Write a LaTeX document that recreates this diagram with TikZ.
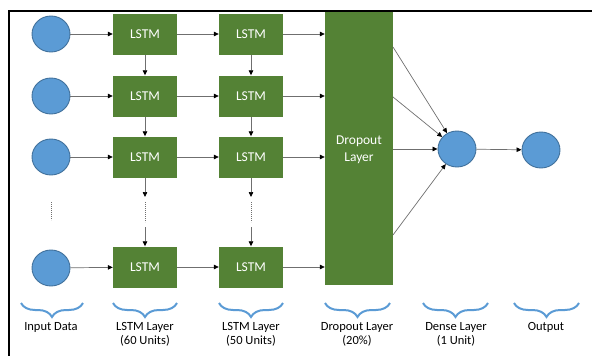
\documentclass[tikz,border=0pt]{standalone}
\usepackage{fontspec}
\setmainfont{Carlito}
\usetikzlibrary{arrows.meta,shapes.geometric,decorations.pathreplacing}
\definecolor{lgreen}{HTML}{548235}
\definecolor{cblue}{HTML}{5B9BD5}
\definecolor{cedge}{HTML}{41719C}
\definecolor{lgray}{HTML}{6F6F6F}
\begin{document}
\begin{tikzpicture}[x=1pt,y=-1pt,
 inp/.style={ellipse,fill=cblue,draw=cedge,line width=0.9pt,minimum width=38pt,minimum height=36pt,inner sep=0pt},
 lstm/.style={rectangle,fill=lgreen,minimum width=64pt,minimum height=41pt,inner sep=0pt,text=white,font=\fontsize{13.5}{16}\selectfont},
 conn/.style={draw=lgray, line width=0.7pt, -{Triangle[length=5pt,width=4.5pt,color=black]}},
 dotline/.style={draw=lgray, line width=0.8pt, dash pattern=on 0.8pt off 1.2pt},
 brc/.style={draw=cblue,line width=2pt,decorate,decoration={brace,mirror,amplitude=14pt,aspect=0.5}},
 lbl/.style={font=\fontsize{12.5}{14}\selectfont,align=center,anchor=north,inner sep=0pt}]
\useasboundingbox (0,0) rectangle (592,356);
\draw[line width=2pt] (9,358) -- (9,11) -- (594,11);
% input circles
\node[inp] (i1) at (51,34) {};
\node[inp] (i2) at (51,96) {};
\node[inp] (i3) at (51,157) {};
\node[inp] (i5) at (51,268) {};
% LSTM column 1
\node[lstm] (a1) at (145,34) {LSTM};
\node[lstm] (a2) at (145,96) {LSTM};
\node[lstm] (a3) at (145,157) {LSTM};
\node[lstm] (a5) at (145,267) {LSTM};
% LSTM column 2
\node[lstm] (b1) at (251,34) {LSTM};
\node[lstm] (b2) at (251,96) {LSTM};
\node[lstm] (b3) at (251,157) {LSTM};
\node[lstm] (b5) at (251,267) {LSTM};
% dropout
\node[rectangle,fill=lgreen,minimum width=68pt,minimum height=273pt,inner sep=0pt] (drop) at (359,148.5) {};
\node[text=white,font=\fontsize{13.5}{17}\selectfont,align=center,inner sep=0pt] (droptxt) at (359,150) {Dropout\\Layer};
% dense and output
\node[inp] (dense) at (457,149) {};
\node[inp] (out) at (541,150) {};
% horizontal arrows
\foreach \r in {1,2,3,5}{
  \draw[conn] (i\r) -- (a\r);
  \draw[conn] (a\r) -- (b\r);
  \draw[conn] (b\r.east) -- (b\r.east -| drop.west);
}
% vertical arrows
\foreach \c/\x in {a/145,b/251}{
  \draw[conn] (\c1) -- (\c2);
  \draw[conn] (\c2) -- (\c3);
  \coordinate (\c t) at (\x,197);
  \coordinate (\c u) at (\x,202);
  \coordinate (\c v) at (\x,222);
  \coordinate (\c w) at (\x,227);
  \draw[conn] (\c3.south) -- (\c t);
  \draw[dotline] (\c u) -- (\c v);
  \draw[conn] (\c w) -- (\c5.north);
}
\coordinate (iu) at (51,202);
\coordinate (iv) at (51,220);
\draw[dotline] (iu) -- (iv);
% dropout to dense
\coordinate (d1) at (393,47);
\coordinate (d2) at (393,97);
\coordinate (d3) at (393,149);
\coordinate (d4) at (393,235);
\foreach \k in {1,2,3,4}{\draw[conn] (d\k) -- (dense);}
\draw[conn] (dense) -- (out);
% braces
\foreach \n/\l/\r in {bi/21/83,ba/113/177,bb/219/283,bd/325/390,be/423/488,bo/514/579}{
  \coordinate (\n l) at (\l,303);
  \coordinate (\n r) at (\r,303);
  \draw[brc] (\n l) -- (\n r);
}
% labels
\node[lbl] (li) at (51,322) {Input Data};
\node[lbl] (la) at (145,322) {LSTM Layer\\(60 Units)};
\node[lbl] (lb) at (251,322) {LSTM Layer\\(50 Units)};
\node[lbl] (ld) at (357,322) {Dropout Layer\\(20\%)};
\node[lbl] (le) at (456,322) {Dense Layer\\(1 Unit)};
\node[lbl] (lo) at (546,322) {Output};
\end{tikzpicture}
\end{document}
